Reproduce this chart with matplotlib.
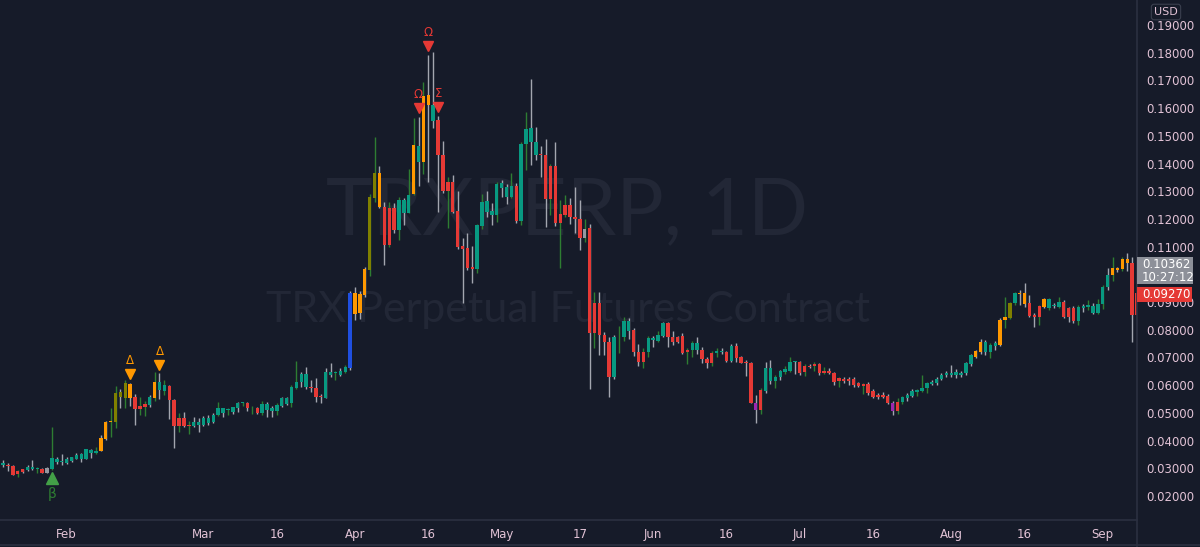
import matplotlib
matplotlib.use("Agg")
import matplotlib.pyplot as plt
import matplotlib.transforms as mtransforms
from matplotlib.patches import Rectangle
import numpy as np
import pandas as pd

# ---------------- data ----------------
start_date = "2021-01-19"
opens = [0.0310,0.0312,0.0308,0.0291,0.0296,0.0293,0.0296,0.0296,0.0298,0.0284,
         0.0296,0.0322,0.0322,0.0317,0.0327,0.0334,0.0334,0.0334,0.0356,0.0356,
         0.0363,0.0407,0.0467,0.0467,0.0575,0.0555,0.0555,0.0556,0.0525,0.0532,
         0.0528,0.0552,0.0582,0.0580,0.0598,0.0546,0.0480,0.0480,0.0455,0.0452,
         0.0456,0.0455,0.0462,0.0468,0.0492,0.0500,0.0510,0.0502,0.0516,0.0536,
         0.0537,0.0519,0.0519,0.0501,0.0510,0.0508,0.0508,0.0525,0.0532,0.0534,
         0.0588,0.0612,0.0592,0.0594,0.0588,0.0561,0.0552,0.0637,0.0643,0.0637,
         0.0649,0.0661,0.0934,0.0860,0.0926,0.1016,0.1274,0.1365,0.1244,0.1238,
         0.1238,0.1160,0.1220,0.1223,0.1290,0.1407,0.1407,0.1646,0.1555,0.1557,
         0.1431,0.1332,0.1332,0.1229,0.1102,0.1094,0.1028,0.1018,0.1175,0.1226,
         0.1214,0.1214,0.1313,0.1278,0.1278,0.1320,0.1193,0.1470,0.1479,0.1479,
         0.1434,0.1431,0.1392,0.1392,0.1218,0.1250,0.1250,0.1208,0.1199,0.1130,
         0.1166,0.0895,0.0895,0.0781,0.0757,0.0631,0.0772,0.0772,0.0797,0.0799,
         0.0721,0.0721,0.0721,0.0763,0.0760,0.0777,0.0826,0.0772,0.0775,0.0777,
         0.0727,0.0727,0.0727,0.0727,0.0693,0.0717,0.0717,0.0720,0.0721,0.0688,
         0.0741,0.0700,0.0684,0.0681,0.0537,0.0582,0.0580,0.0616,0.0616,0.0628,
         0.0648,0.0652,0.0684,0.0684,0.0669,0.0670,0.0676,0.0676,0.0651,0.0652,
         0.0645,0.0625,0.0622,0.0622,0.0622,0.0606,0.0603,0.0603,0.0580,0.0564,
         0.0564,0.0561,0.0537,0.0540,0.0540,0.0552,0.0561,0.0576,0.0580,0.0588,
         0.0604,0.0606,0.0621,0.0637,0.0637,0.0637,0.0637,0.0643,0.0676,0.0703,
         0.0721,0.0721,0.0721,0.0741,0.0745,0.0835,0.0841,0.0895,0.0929,0.0931,
         0.0895,0.0853,0.0886,0.0883,0.0877,0.0885,0.0883,0.0901,0.0877,0.0877,
         0.0833,0.0880,0.0883,0.0862,0.0862,0.0893,0.0953,0.0997,0.1016,0.1018,
         0.1042,0.1042,0.0931]
highs = [0.0330,0.0318,0.0310,0.0294,0.0298,0.0311,0.0330,0.0303,0.0301,0.0303,
         0.0450,0.0339,0.0351,0.0339,0.0342,0.0356,0.0356,0.0370,0.0368,0.0378,
         0.0421,0.0470,0.0516,0.0597,0.0585,0.0619,0.0609,0.0568,0.0556,0.0544,
         0.0564,0.0649,0.0643,0.0619,0.0600,0.0549,0.0501,0.0504,0.0472,0.0486,
         0.0480,0.0489,0.0492,0.0498,0.0540,0.0519,0.0516,0.0522,0.0540,0.0540,
         0.0540,0.0525,0.0522,0.0544,0.0540,0.0525,0.0534,0.0558,0.0558,0.0600,
         0.0687,0.0649,0.0667,0.0619,0.0625,0.0568,0.0661,0.0679,0.0652,0.0660,
         0.0673,0.0940,0.0955,0.0940,0.1025,0.1290,0.1497,0.1391,0.1262,0.1262,
         0.1259,0.1280,0.1274,0.1379,0.1563,0.1569,0.1695,0.1792,0.1804,0.1572,
         0.1482,0.1353,0.1359,0.1302,0.1130,0.1148,0.1102,0.1182,0.1290,0.1302,
         0.1256,0.1335,0.1341,0.1326,0.1365,0.1329,0.1479,0.1587,0.1704,0.1533,
         0.1463,0.1487,0.1398,0.1479,0.1268,0.1286,0.1274,0.1314,0.1268,0.1201,
         0.1182,0.0937,0.0937,0.0793,0.0772,0.0781,0.0813,0.0847,0.0841,0.0805,
         0.0748,0.0733,0.0777,0.0777,0.0797,0.0829,0.0829,0.0797,0.0777,0.0787,
         0.0733,0.0760,0.0772,0.0736,0.0700,0.0724,0.0733,0.0733,0.0724,0.0747,
         0.0751,0.0705,0.0690,0.0684,0.0564,0.0588,0.0684,0.0690,0.0637,0.0655,
         0.0669,0.0700,0.0688,0.0688,0.0676,0.0676,0.0685,0.0681,0.0667,0.0660,
         0.0649,0.0628,0.0628,0.0628,0.0630,0.0612,0.0609,0.0612,0.0585,0.0573,
         0.0576,0.0567,0.0544,0.0552,0.0561,0.0573,0.0585,0.0585,0.0637,0.0612,
         0.0618,0.0628,0.0643,0.0652,0.0673,0.0657,0.0652,0.0685,0.0712,0.0727,
         0.0768,0.0763,0.0751,0.0760,0.0841,0.0917,0.0901,0.0937,0.0943,0.0967,
         0.0925,0.0859,0.0889,0.0913,0.0913,0.0895,0.0919,0.0907,0.0883,0.0886,
         0.0889,0.0893,0.0907,0.0895,0.0910,0.0961,0.1021,0.1061,0.1028,0.1061,
         0.1076,0.1061,0.0967]
lows = [0.0305,0.0291,0.0275,0.0267,0.0284,0.0291,0.0293,0.0282,0.0281,0.0281,
        0.0294,0.0315,0.0310,0.0315,0.0324,0.0332,0.0322,0.0332,0.0337,0.0351,
        0.0361,0.0403,0.0414,0.0444,0.0516,0.0516,0.0525,0.0456,0.0492,0.0489,
        0.0522,0.0544,0.0549,0.0564,0.0476,0.0372,0.0432,0.0447,0.0424,0.0447,
        0.0432,0.0453,0.0456,0.0462,0.0489,0.0486,0.0492,0.0496,0.0504,0.0525,
        0.0508,0.0496,0.0496,0.0491,0.0484,0.0484,0.0492,0.0522,0.0528,0.0522,
        0.0585,0.0592,0.0585,0.0576,0.0540,0.0534,0.0552,0.0630,0.0618,0.0633,
        0.0645,0.0655,0.0835,0.0840,0.0918,0.0995,0.1262,0.1238,0.1034,0.1100,
        0.1148,0.1124,0.1178,0.1220,0.1286,0.1320,0.1362,0.1335,0.1527,0.1226,
        0.1292,0.1166,0.1220,0.1090,0.0895,0.1016,0.0968,0.1004,0.1163,0.1208,
        0.1178,0.1190,0.1278,0.1254,0.1274,0.1184,0.1178,0.1377,0.1395,0.1413,
        0.1350,0.1172,0.1214,0.1175,0.1022,0.1208,0.1182,0.1148,0.1088,0.1118,
        0.0585,0.0733,0.0709,0.0709,0.0556,0.0621,0.0715,0.0760,0.0765,0.0705,
        0.0669,0.0663,0.0700,0.0736,0.0754,0.0772,0.0736,0.0745,0.0751,0.0712,
        0.0675,0.0703,0.0712,0.0681,0.0661,0.0669,0.0703,0.0712,0.0684,0.0684,
        0.0684,0.0678,0.0633,0.0534,0.0464,0.0496,0.0570,0.0604,0.0588,0.0619,
        0.0640,0.0648,0.0640,0.0637,0.0633,0.0661,0.0652,0.0637,0.0640,0.0640,
        0.0600,0.0592,0.0606,0.0600,0.0594,0.0592,0.0568,0.0564,0.0552,0.0549,
        0.0552,0.0532,0.0492,0.0496,0.0532,0.0544,0.0558,0.0561,0.0576,0.0573,
        0.0600,0.0600,0.0619,0.0628,0.0628,0.0625,0.0630,0.0637,0.0669,0.0697,
        0.0712,0.0709,0.0697,0.0727,0.0741,0.0805,0.0838,0.0889,0.0889,0.0883,
        0.0845,0.0811,0.0817,0.0877,0.0871,0.0877,0.0877,0.0841,0.0829,0.0823,
        0.0817,0.0865,0.0871,0.0857,0.0857,0.0874,0.0943,0.0977,0.1010,0.1013,
        0.1013,0.0757,0.0835]
closes = [0.0320,0.0308,0.0277,0.0279,0.0286,0.0306,0.0303,0.0301,0.0284,0.0301,
          0.0337,0.0334,0.0327,0.0334,0.0339,0.0349,0.0351,0.0368,0.0365,0.0363,
          0.0409,0.0467,0.0468,0.0573,0.0556,0.0607,0.0604,0.0513,0.0513,0.0522,
          0.0556,0.0612,0.0611,0.0599,0.0546,0.0452,0.0452,0.0452,0.0454,0.0468,
          0.0468,0.0483,0.0481,0.0492,0.0519,0.0516,0.0515,0.0520,0.0534,0.0537,
          0.0516,0.0516,0.0501,0.0532,0.0532,0.0516,0.0528,0.0552,0.0552,0.0592,
          0.0612,0.0639,0.0639,0.0588,0.0558,0.0556,0.0649,0.0649,0.0648,0.0652,
          0.0664,0.0934,0.0857,0.0929,0.1018,0.1278,0.1365,0.1244,0.1106,0.1106,
          0.1160,0.1268,0.1268,0.1286,0.1466,0.1463,0.1644,0.1611,0.1611,0.1431,
          0.1301,0.1301,0.1226,0.1100,0.1090,0.1022,0.1018,0.1178,0.1262,0.1265,
          0.1230,0.1326,0.1329,0.1314,0.1320,0.1193,0.1470,0.1523,0.1527,0.1431,
          0.1431,0.1272,0.1271,0.1187,0.1187,0.1214,0.1208,0.1199,0.1130,0.1165,
          0.0789,0.0789,0.0781,0.0754,0.0631,0.0772,0.0775,0.0833,0.0833,0.0721,
          0.0685,0.0685,0.0769,0.0771,0.0781,0.0826,0.0775,0.0757,0.0757,0.0717,
          0.0721,0.0753,0.0753,0.0693,0.0681,0.0681,0.0723,0.0721,0.0688,0.0741,
          0.0697,0.0681,0.0679,0.0537,0.0510,0.0510,0.0663,0.0663,0.0630,0.0651,
          0.0657,0.0682,0.0685,0.0645,0.0648,0.0667,0.0669,0.0645,0.0645,0.0645,
          0.0612,0.0616,0.0616,0.0616,0.0600,0.0597,0.0595,0.0570,0.0556,0.0558,
          0.0556,0.0534,0.0508,0.0508,0.0556,0.0564,0.0580,0.0582,0.0588,0.0606,
          0.0612,0.0621,0.0637,0.0645,0.0645,0.0649,0.0645,0.0679,0.0709,0.0723,
          0.0757,0.0757,0.0745,0.0753,0.0835,0.0845,0.0895,0.0931,0.0934,0.0893,
          0.0850,0.0847,0.0847,0.0910,0.0910,0.0886,0.0901,0.0847,0.0847,0.0833,
          0.0883,0.0886,0.0889,0.0886,0.0893,0.0955,0.0997,0.1021,0.1021,0.1054,
          0.1054,0.0853,0.0853]
# body colour codes per candle: t teal, r red, o orange, v olive, b blue, p purple, g gray
body_codes = ("trrrrtttrg" "tttttttttt" "ooovvvorrr" "tottrrrrrt" "tttttttttt"
              "rrrttttttt" "tttrrrtttt" "tbooovvorr" "rtttotootr" "rrrrrrrttt"
              "tttttrtttt" "rrrrrrrrrg" "rrrrrttttr" "rrttttrrrr" "rttrrrttrt"
              "rrrrprtttt" "tttrrrrrrr" "rrrrrrrrrr" "rrprtttttt" "ttttttttto"
              "otttoovtoo" "rrrotttrrr" "tttttttooo" "orr")
# wick colour codes per candle: g gray, G green
wick_codes = ("gggGgggGgg" "GggggggggG" "ggGGgGggGG" "gGgGggGgGg" "ggggGgGggG"
              "gGgGggGggG" "GgggggggGg" "GggggGGggG" "gGgGGgGggg" "gGgggggGGg"
              "gGggGgGGgg" "ggGgGGgggG" "gGggggGGgg" "gGGgGggggg" "GGgggGGggg"
              "gggggGggGg" "GGggGgGgGg" "gGggggGggg" "gggGGggGGG" "gggggggggg"
              "ggGggGGGgg" "ggGgGgGggg" "GgGgGGgGgG" "ggG")
tick_dates = ["2021-02-01", "2021-03-01", "2021-03-16", "2021-04-01", "2021-04-16",
              "2021-05-01", "2021-05-17", "2021-06-01", "2021-06-16", "2021-07-01",
              "2021-07-16", "2021-08-01", "2021-08-16", "2021-09-01"]
tick_labels = ["Feb", "Mar", "16", "Apr", "16", "May", "17", "Jun", "16", "Jul",
               "16", "Aug", "16", "Sep"]
price_ticks = [0.02, 0.03, 0.04, 0.05, 0.06, 0.07, 0.08, 0.09, 0.11, 0.12,
               0.13, 0.14, 0.15, 0.16, 0.17, 0.18, 0.19]
# signal markers: (day index, symbol, colour, above/below)
signals = [(10, "β", "green", "below"), (26, "Δ", "orange", "above"),
           (32, "Δ", "orange", "above"), (85, "Ω", "red", "above"),
           (87, "Ω", "red", "above"), (89, "Σ", "red", "above")]
last_price = 0.09270
mark_price = 0.10362
countdown = "10:27:12"

# ---------------- styling ----------------
BG = "#161b29"
TXT = "#e2c3d6"
LINE = "#2b3040"
body_colors = {"t": "#089981", "r": "#e53935", "o": "#ff9800", "v": "#808000",
               "b": "#1f4fe0", "p": "#9c27b0", "g": "#9598a1"}
wick_colors = {"g": "#a3a6af", "G": "#2e7d32"}
sig_colors = {"green": ("#43a047", "#2e7d32"), "orange": ("#ff9800", "#ff9800"),
              "red": ("#e53935", "#e53935")}

n = len(opens)
x = np.arange(n)
o = np.array(opens); h = np.array(highs); l = np.array(lows); c = np.array(closes)
bcodes = (body_codes + "t" * n)[:n]
wcodes = (wick_codes + "g" * n)[:n]

W, H = 1200, 547
fig = plt.figure(figsize=(W / 100, H / 100), dpi=100, facecolor=BG)
ax_right_px, ax_bottom_px = 1137, 520
ax = fig.add_axes([0, (H - ax_bottom_px) / H, ax_right_px / W, ax_bottom_px / H])
ax.set_facecolor(BG)

# watermark
ax.text(0.499, 0.592, "TRXPERP, 1D", transform=ax.transAxes, ha="center", va="center",
        fontsize=57, color="#222736", family="Lato", zorder=0)
ax.text(0.5, 0.404, "TRX Perpetual Futures Contract", transform=ax.transAxes,
        ha="center", va="center", fontsize=31, color="#222736", family="Lato", zorder=0)

# candles
ax.vlines(x, l, h, colors=[wick_colors[k] for k in wcodes], linewidth=1.0, zorder=2)
bottoms = np.minimum(o, c)
heights = np.maximum(np.abs(c - o), 0.0003)
ax.bar(x, heights, bottom=bottoms, width=0.7,
       color=[body_colors[k] for k in bcodes], linewidth=0, zorder=3)

ax.set_xlim(-0.634, 232.0)
ax.set_ylim(0.01130, 0.19903)

# signal markers
for d, sym, col, pos in signals:
    tri_col, txt_col = sig_colors[col]
    if pos == "above":
        tr_tri = mtransforms.offset_copy(ax.transData, fig=fig, y=8.5, units="dots")
        tr_txt = mtransforms.offset_copy(ax.transData, fig=fig, y=22, units="dots")
        ax.plot([d], [h[d]], marker="v", color=tri_col, markersize=7, transform=tr_tri,
                linestyle="none", zorder=5, clip_on=False)
        ax.text(d, h[d], sym, transform=tr_txt, ha="center", va="center",
                color=txt_col, fontsize=8.5, zorder=5)
    else:
        tr_tri = mtransforms.offset_copy(ax.transData, fig=fig, y=-8, units="dots")
        tr_txt = mtransforms.offset_copy(ax.transData, fig=fig, y=-24, units="dots")
        ax.plot([d], [l[d]], marker="^", color=tri_col, markersize=8, transform=tr_tri,
                linestyle="none", zorder=5, clip_on=False)
        ax.text(d, l[d], sym, transform=tr_txt, ha="center", va="center",
                color=txt_col, fontsize=10, zorder=5)

# axes styling
for s in ["top", "left", "right"]:
    ax.spines[s].set_visible(False)
ax.spines["bottom"].set_color(LINE)
ax.spines["bottom"].set_linewidth(1.2)
start = pd.Timestamp(start_date)
tick_pos = [(pd.Timestamp(t) - start).days for t in tick_dates]
ax.set_xticks(tick_pos)
ax.set_xticklabels(tick_labels)
ax.tick_params(axis="x", length=0, pad=6, colors=TXT, labelsize=8.5)
ax.yaxis.tick_right()
ax.set_yticks(price_ticks)
ax.set_yticklabels([f"{p:.5f}" for p in price_ticks])
ax.tick_params(axis="y", length=0, pad=7, colors=TXT, labelsize=8.5)
ax.grid(False)

# separator lines
fig.add_artist(plt.Line2D([ax_right_px / W] * 2, [0, 1], transform=fig.transFigure,
                          color=LINE, linewidth=1.2))
fig.add_artist(plt.Line2D([0, 1], [2 / H, 2 / H], transform=fig.transFigure,
                          color=LINE, linewidth=1.2))

# USD label
fig.text(1166 / W, 1 - 12 / H, "USD", ha="center", va="center", color=TXT, fontsize=8,
         bbox=dict(boxstyle="round,pad=0.25", fc=BG, ec="#3a3f4e", lw=0.8))

# price labels (positioned from data values)
fig.canvas.draw()
def y_fig(price):
    return fig.transFigure.inverted().transform(ax.transData.transform((0, price)))[1]

ym = y_fig(mark_price)
fig.add_artist(Rectangle((1137 / W, ym - 20 / H), 56 / W, 27 / H, transform=fig.transFigure,
                         facecolor="#8d9099", edgecolor="none", zorder=10))
fig.text(1142 / W, ym, f"{mark_price:.5f}", ha="left", va="center", color="white",
         fontsize=8.5, zorder=11)
fig.text(1142 / W, ym - 13 / H, countdown, ha="left", va="center", color="white",
         fontsize=8.5, zorder=11)
yl = y_fig(last_price)
fig.add_artist(Rectangle((1137 / W, yl - 7.5 / H), 55 / W, 15 / H, transform=fig.transFigure,
                         facecolor="#e53935", edgecolor="none", zorder=10))
fig.text(1142 / W, yl, f"{last_price:.5f}", ha="left", va="center", color="white",
         fontsize=8.5, zorder=11)

fig.savefig("out.png", dpi=100, facecolor=BG)
